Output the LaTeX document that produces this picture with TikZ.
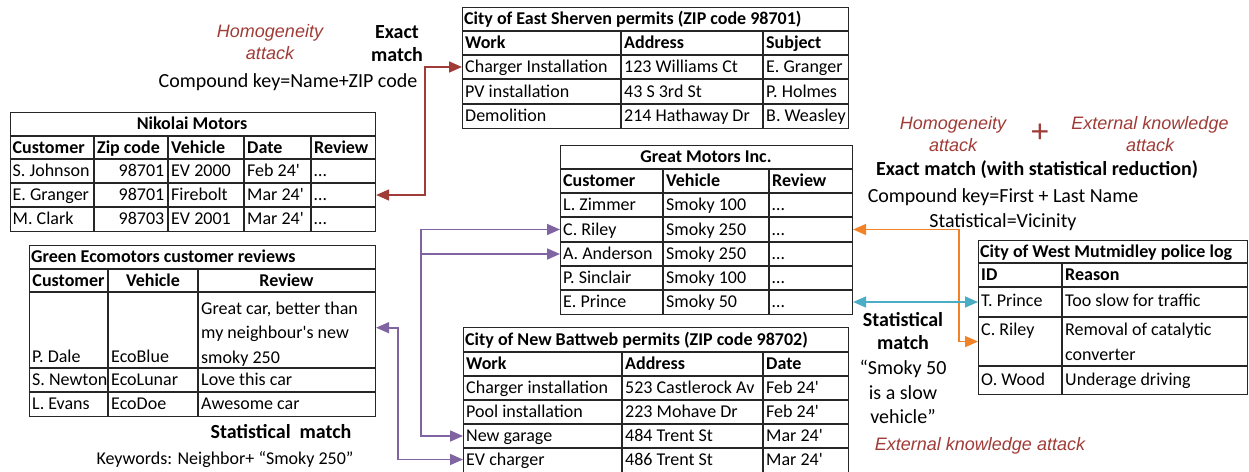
\documentclass[tikz,border=0pt]{standalone}
\usepackage{fontspec}
\setmainfont{Carlito}
\newfontfamily\arialfont{Liberation Sans}
\usetikzlibrary{arrows.meta}
\definecolor{attackred}{RGB}{160,60,55}
\definecolor{linkpurple}{RGB}{128,100,162}
\definecolor{linkorange}{RGB}{242,130,40}
\definecolor{linkcyan}{RGB}{75,172,198}
\newcommand\tabfont{\fontsize{18}{24.5}\selectfont}
\newcommand\labfont{\fontsize{20}{23}\selectfont}
\newcommand\attfont{\arialfont\itshape\fontsize{18}{22}\selectfont}

\begin{document}
\begin{tikzpicture}[x=1pt,y=-1pt,
  cell/.style={anchor=west,inner sep=0pt,text height=11.5pt,text depth=0pt,font=\tabfont},
  hcell/.style={cell,font=\tabfont\bfseries},
  mcell/.style={anchor=base west,inner sep=0pt,align=left,font=\tabfont},
  tab/.style={draw=black!85,line width=1.1pt,inner sep=0pt,anchor=north west},
  grid/.style={black!85,line width=1.1pt},
  lab/.style={font=\labfont,align=center,inner sep=0pt},
  blab/.style={lab,font=\labfont\bfseries},
  att/.style={font=\attfont,text=attackred,align=center,inner sep=0pt},
  link/.style={line width=1.6pt,{Triangle[length=13pt,width=11pt]}-{Triangle[length=13pt,width=11pt]}},
  halflink/.style={line width=1.6pt,{Triangle[length=13pt,width=11pt]}-}]
\path[use as bounding box,fill=white] (0,0) rectangle (1249,471);

% Nikolai Motors
\node[tab,minimum width=365.5pt,minimum height=119pt] (nm) at (9.5,112) {};
\foreach \y in {136,159,183,207} \draw[grid] (9.5,\y) -- (375,\y);
\foreach \x in {94,168,244,311} \draw[grid] (\x,136) -- (\x,231);
\node[hcell,anchor=center] (nm-t) at (192,124) {Nikolai Motors};
\foreach \x/\h [count=\j] in {12.5/Customer,97/Zip code,171/Vehicle,247/Date,314/Review} \node[hcell] (nm-0-\j) at (\x,147.5) {\h};
\foreach \y/\a/\b/\c/\d [count=\i] in {171/S. Johnson/98701/EV 2000/Feb 24\textquotesingle,195/E. Granger/98701/Firebolt/Mar 24\textquotesingle,219/M. Clark/98703/EV 2001/Mar 24\textquotesingle} {
  \node[cell] (nm-\i-1) at (12.5,\y) {\a}; \node[cell,anchor=east] (nm-\i-2) at (164.5,\y) {\b};
  \node[cell] (nm-\i-3) at (171,\y) {\c}; \node[cell] (nm-\i-4) at (247,\y) {\d}; \node[cell] (nm-\i-5) at (314,\y) {…};}

% City of East Sherven
\node[tab,minimum width=386pt,minimum height=121pt] (es) at (462,7) {};
\foreach \y in {31,55,79,104} \draw[grid] (462,\y) -- (848,\y);
\foreach \x in {621,763} \draw[grid] (\x,31) -- (\x,128);
\node[hcell] (es-t) at (464,19) {City of East Sherven permits (ZIP code 98701)};
\foreach \x/\h [count=\j] in {465/Work,624/Address,766/Subject} \node[hcell] (es-0-\j) at (\x,43) {\h};
\foreach \y/\a/\b/\c [count=\i] in {67/Charger Installation/123 Williams Ct/E. Granger,91.5/PV installation/43 S 3rd St/P. Holmes,116/Demolition/214 Hathaway Dr/B. Weasley} {
  \node[cell] (es-\i-1) at (465,\y) {\a}; \node[cell] (es-\i-2) at (624,\y) {\b}; \node[cell] (es-\i-3) at (766,\y) {\c};}

% Great Motors
\node[tab,minimum width=292pt,minimum height=169pt] (gm) at (560,145) {};
\foreach \y in {169,193,217,242,266,290} \draw[grid] (560,\y) -- (852,\y);
\foreach \x in {663,769} \draw[grid] (\x,169) -- (\x,314);
\node[hcell,anchor=center] (gm-t) at (706,157) {Great Motors Inc.};
\foreach \x/\h [count=\j] in {563/Customer,666/Vehicle,772/Review} \node[hcell] (gm-0-\j) at (\x,181) {\h};
\foreach \y/\a/\b [count=\i] in {205/L. Zimmer/Smoky 100,229.5/C. Riley/Smoky 250,254/A. Anderson/Smoky 250,278/P. Sinclair/Smoky 100,302/E. Prince/Smoky 50} {
  \node[cell] (gm-\i-1) at (563,\y) {\a}; \node[cell] (gm-\i-2) at (666,\y) {\b}; \node[cell] (gm-\i-3) at (772,\y) {…};}

% Green Ecomotors
\node[tab,minimum width=346pt,minimum height=171pt] (ge) at (29,245) {};
\foreach \y in {269,292,368,392} \draw[grid] (29,\y) -- (375,\y);
\foreach \x in {108,198} \draw[grid] (\x,269) -- (\x,416);
\node[hcell] (ge-t) at (31,257) {Green Ecomotors customer reviews};
\foreach \x/\h [count=\j] in {68.5/Customer,153/Vehicle,286.5/Review} \node[hcell,anchor=center] (ge-0-\j) at (\x,280.5) {\h};
\node[cell] (ge-1-1) at (32,357) {P. Dale}; \node[cell] (ge-1-2) at (111,357) {EcoBlue};
\node[mcell] (ge-1-3) at (201,363) {Great car, better than\\my neighbour\textquotesingle s new\\smoky 250};
\foreach \y/\a/\b/\c [count=\i from 2] in {380/S. Newton/EcoLunar/Love this car,404/L. Evans/EcoDoe/Awesome car} {
  \node[cell] (ge-\i-1) at (32,\y) {\a}; \node[cell] (ge-\i-2) at (111,\y) {\b}; \node[cell] (ge-\i-3) at (201,\y) {\c};}

% City of New Battweb
\node[tab,minimum width=385pt,minimum height=147pt] (nb) at (463,327) {};
\foreach \y in {352,376,400,424,448} \draw[grid] (463,\y) -- (848,\y);
\foreach \x in {622,763} \draw[grid] (\x,352) -- (\x,474);
\node[hcell] (nb-t) at (465,339.5) {City of New Battweb permits (ZIP code 98702)};
\foreach \x/\h [count=\j] in {466/Work,625/Address,766/Date} \node[hcell] (nb-0-\j) at (\x,364) {\h};
\foreach \y/\a/\b/\c [count=\i] in {388/Charger installation/523 Castlerock Av/Feb 24\textquotesingle,412/Pool installation/223 Mohave Dr/Feb 24\textquotesingle,436/New garage/484 Trent St/Mar 24\textquotesingle,459.5/EV charger/486 Trent St/Mar 24\textquotesingle} {
  \node[cell] (nb-\i-1) at (466,\y) {\a}; \node[cell] (nb-\i-2) at (625,\y) {\b}; \node[cell] (nb-\i-3) at (766,\y) {\c};}

% City of West Mutmidley
\node[tab,minimum width=269pt,minimum height=154pt] (wm) at (978,240) {};
\foreach \y in {263,287,317,366} \draw[grid] (978,\y) -- (1247,\y);
\draw[grid] (1062,263) -- (1062,394);
\node[hcell] (wm-t) at (980,251.5) {City of West Mutmidley police log};
\node[hcell] (wm-0-1) at (981,275) {ID}; \node[hcell] (wm-0-2) at (1065,275) {Reason};
\node[cell] (wm-1-1) at (981,301) {T. Prince}; \node[cell] (wm-1-2) at (1065,301) {Too slow for traffic};
\node[cell] (wm-2-1) at (981,330) {C. Riley}; \node[mcell] (wm-2-2) at (1065,360) {Removal of catalytic\\converter};
\node[cell] (wm-3-1) at (981,380) {O. Wood}; \node[cell] (wm-3-2) at (1065,380) {Underage driving};

% labels
\node[att] (hom-a) at (270,42) {Homogeneity\\attack};
\node[blab] (exact-a) at (397,43.5) {Exact\\match};
\node[lab] (key-a) at (288,82) {Compound key=Name+ZIP code};
\node[att] (hom-b) at (953,134) {Homogeneity\\attack};
\node[att,font=\arialfont\fontsize{32}{32}\selectfont] (plus) at (1040,133) {+};
\node[att] (ext-b) at (1150,134) {External knowledge\\attack};
\node[blab] (exact-b) at (1037,170) {Exact match (with statistical reduction)};
\node[lab] (key-b) at (1003,197) {Compound key=First + Last Name};
\node[lab] (stat-b) at (1003,222) {Statistical=Vicinity};
\node[blab] (match-c) at (903,331.5) {Statistical\\match};
\node[lab,font=\fontsize{20}{24.5}\selectfont] (quote-c) at (903,392) {“Smoky 50\\is a slow\\vehicle”};
\node[att] (ext-c) at (980,446) {External knowledge attack};
\node[blab] (match-d) at (281,432) {Statistical\hspace{9pt}match};
\node[lab,font=\fontsize{18}{23}\selectfont] (key-d) at (225,460) {Keywords: Neighbor+ “Smoky 250”};

% links
\draw[link,attackred] (nm-2-5 -| nm.east) -- ++(49,0) |- (es-1-1 -| es.west);
\draw[link,linkpurple] (gm-2-1 -| gm.west) -- ++(-139,0) |- (nb-3-1 -| nb.west);
\draw[halflink,linkpurple] (gm-3-1 -| gm.west) -- ++(-139,0);
\draw[link,linkpurple] ([yshift=6pt]ge-1-3.west -| ge.east) -- ++(22,0) |- (nb-4-1 -| nb.west);
\draw[link,linkorange] (gm-2-3 -| gm.east) -- ++(106,0) |- (wm-2-2.west -| wm.west);
\draw[link,linkcyan] (gm-5-3 -| gm.east) -- (gm-5-3 -| wm.west);
\end{tikzpicture}
\end{document}
